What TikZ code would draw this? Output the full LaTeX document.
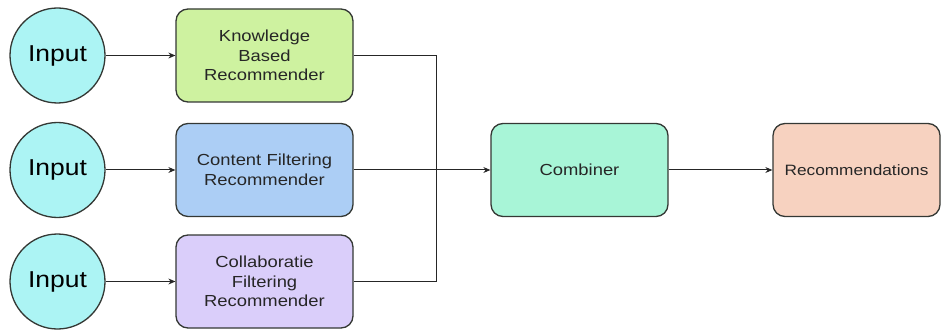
\documentclass[tikz,border=0pt]{standalone}
\usepackage{fontspec}
\setmainfont[FakeStretch=1.15]{Liberation Sans}
\usepackage{tikz}
\usetikzlibrary{calc,positioning,arrows.meta,shapes.geometric}
\definecolor{inputfill}{RGB}{172,244,244}
\definecolor{kbfill}{RGB}{206,242,160}
\definecolor{cffill}{RGB}{172,206,245}
\definecolor{clfill}{RGB}{218,206,250}
\definecolor{combfill}{RGB}{168,245,215}
\definecolor{recfill}{RGB}{247,210,192}
\definecolor{edge}{RGB}{52,56,52}
\tikzset{
>={Stealth[length=7pt,width=6pt]},
  inputnode/.style={
    circle,
    draw=edge, line width=1.3pt,
    fill=inputfill,
    minimum size=95pt,
    inner sep=0pt,
    font=\fontsize{23}{26}\selectfont},
  recbox/.style={
    rectangle,
    rounded corners=12pt,
    draw=edge, line width=1.3pt,
    text width=160pt,
    minimum width=177pt,
    minimum height=93pt,
    align=center,
    text=black!85,
    font=\fontsize{16}{19.5}\selectfont},
  line/.style={draw=black!85, line width=1pt},
}

\begin{document}
\begin{tikzpicture}[x=1pt,y=1pt]
  \useasboundingbox (0,0) rectangle (941,-331);
  % inputs
  \node[inputnode] (in1) at (57.5,-55.5) {Input};
  \node[inputnode] (in2) at (57.5,-170) {Input};
  \node[inputnode] (in3) at (57.5,-281.5) {Input};
  % the three recommenders
  \node[recbox, fill=kbfill] (kb) at (264.5,-55.5) {Knowledge\\Based\\Recommender};
  \node[recbox, fill=cffill] (cf) at (264.5,-170) {Content Filtering\\Recommender};
  \node[recbox, fill=clfill] (cl) at (264.5,-281.5) {Collaboratie\\Filtering\\Recommender};
  \node[recbox, fill=combfill] (comb) at (579.5,-170) {Combiner};
  \node[recbox, fill=recfill, minimum width=167pt, text width=150pt,
    font=\fontsize{15}{18}\selectfont]
    (rec) at (856.5,-170) {Recommendations};
  \coordinate (join) at (436,-170);

  \draw[line,->] (in1) -- (kb);
  \draw[line,->] (in2) -- (cf);
  \draw[line,->] (in3) -- (cl);
  \draw[line] (kb.east) -| (join);
  \draw[line] (cl.east) -| (join);
  \draw[line,->] (cf.east) -- (comb.west);
  \draw[line,->] (comb) -- (rec);
\end{tikzpicture}
\end{document}
